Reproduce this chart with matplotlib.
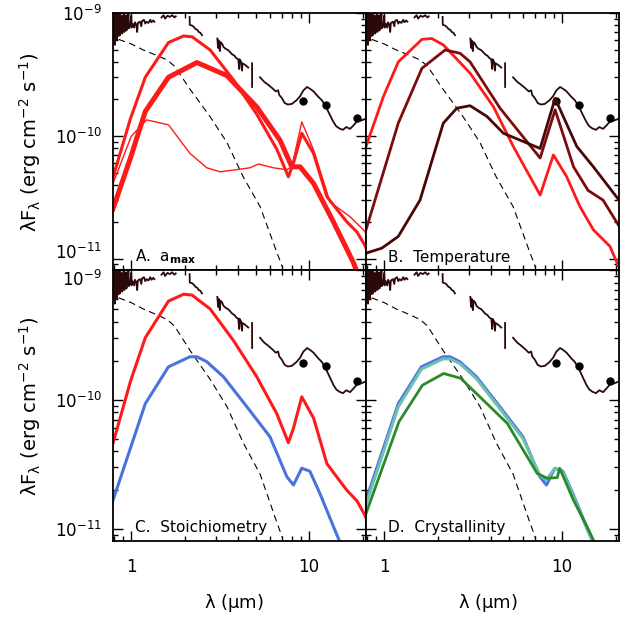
import numpy as np
import matplotlib
matplotlib.use("Agg")
import matplotlib.pyplot as plt
from matplotlib.ticker import NullFormatter

nan = np.nan

# observed spectrum (segments separated by nan)
spec_wl = [0.79, 0.795, 0.80, 0.805, 0.81, 0.815, 0.82, 0.825, 0.83, 0.835, 0.84, 0.845,
           0.85, 0.86, 0.865, 0.875, 0.885, 0.89, 0.90, 0.91, 0.915, 0.925, 0.935, 0.94,
           0.95, 0.965, 0.97, 0.99, 1.0, 1.005, 1.02, 1.04, 1.05, 1.07, 1.08, 1.09, 1.12,
           1.14, 1.15, 1.18, 1.2, 1.22, 1.25, 1.28, 1.3, 1.33, 1.35, nan,
           1.48, 1.52, 1.55, 1.6, 1.65, 1.7, 1.75, 1.78, nan,
           2.13, 2.135, 2.2, 2.25, 2.3, 2.35, 2.4, 2.45, 2.5, nan,
           3.05, 3.08, 3.1, 3.15, 3.18, 3.25, 3.3, 3.4, 3.5, 3.6, 3.7, 3.8, 3.9, 4.0, 4.05,
           4.07, 4.15, 4.2, 4.22, 4.35, 4.45, 4.55, nan,
           4.78, 4.785, nan,
           5.3, 5.6, 5.9, 6.2, 6.5, 6.7, 6.8, 7.0, 7.3, 7.6, 8.0, 8.5, 8.9, 9.3, 9.75, 10.2,
           10.6, 11.2, 11.8, 12.5, 13.1, 13.7, 14.2, 14.8, 15.5, 16.2, 17.0, 17.8, 18.6,
           19.5, 20.9]
spec_flux = [6.3e-10, 1.0e-9, 6.0e-10, 9.5e-10, 5.5e-10, 1.0e-9, 6.2e-10, 9.8e-10, 6.0e-10,
             1.0e-9, 7.0e-10, 9.8e-10, 6.5e-10, 1.0e-9, 6.6e-10, 7.5e-10, 9.5e-10, 6.8e-10,
             7.5e-10, 1.0e-9, 7.0e-10, 7.8e-10, 9.6e-10, 7.2e-10, 7.8e-10, 1.0e-9, 7.5e-10,
             8.0e-10, 9.5e-10, 7.6e-10, 8.2e-10, 7.6e-10, 8.4e-10, 8.0e-10, 7.0e-10, 8.3e-10,
             8.5e-10, 7.8e-10, 8.6e-10, 8.8e-10, 8.2e-10, 8.5e-10, 8.3e-10, 8.8e-10, 8.4e-10,
             8.7e-10, 8.5e-10, nan,
             9.2e-10, 9.6e-10, 9.0e-10, 9.5e-10, 9.3e-10, 9.6e-10, 9.2e-10, 9.4e-10, nan,
             9.3e-10, 8.0e-10, 7.9e-10, 7.7e-10, 7.4e-10, 7.3e-10, 7.0e-10, 6.9e-10, 6.6e-10, nan,
             6.2e-10, 5.2e-10, 6.0e-10, 4.9e-10, 5.8e-10, 5.6e-10, 5.3e-10, 5.1e-10, 5.0e-10,
             4.8e-10, 4.6e-10, 4.5e-10, 4.3e-10, 4.2e-10, 3.5e-10, 4.2e-10, 4.0e-10, 3.4e-10,
             3.9e-10, 3.8e-10, 3.7e-10, 3.6e-10, nan,
             3.9e-10, 2.5e-10, nan,
             3.0e-10, 2.75e-10, 2.6e-10, 2.45e-10, 2.3e-10, 2.35e-10, 2.15e-10, 2.05e-10,
             1.85e-10, 1.8e-10, 1.82e-10, 1.95e-10, 2.1e-10, 2.35e-10, 2.5e-10, 2.4e-10,
             2.3e-10, 2.1e-10, 1.95e-10, 1.7e-10, 1.48e-10, 1.3e-10, 1.2e-10, 1.15e-10,
             1.12e-10, 1.18e-10, 1.14e-10, 1.22e-10, 1.31e-10, 1.33e-10, 1.38e-10]

# photometry points
phot_wl = [9.2, 12.5, 18.5]
phot_flux = [1.93e-10, 1.8e-10, 1.4e-10]

# stellar photosphere (dashed)
star_wl = [0.85, 1.0, 1.17, 1.4, 1.59, 1.75, 2.14, 2.78, 3.46, 4.26, 5.31, 6.6, 7.1]
star_flux = [6.1e-10, 5.6e-10, 5.0e-10, 4.5e-10, 4.15e-10, 3.7e-10, 2.4e-10, 1.43e-10,
             8.8e-11, 4.65e-11, 2.65e-11, 1.12e-11, 8.5e-12]

# reference model (red in A and C)
ref_wl = [0.79, 0.99, 1.2, 1.62, 1.97, 2.2, 2.78, 3.76, 5.08, 6.58, 7.65, 8.17, 9.1,
          10.6, 12.6, 14.9, 16.3, 18.6, 20.5, 22]
ref_flux = [4.6e-11, 1.38e-10, 3.0e-10, 5.75e-10, 6.5e-10, 6.4e-10, 5.0e-10, 2.85e-10,
            1.5e-10, 7.8e-11, 4.65e-11, 6.0e-11, 1.05e-10, 7.2e-11, 3.2e-11, 2.35e-11,
            2.0e-11, 1.65e-11, 1.3e-11, 1.05e-11]

# A. a_max
amax_thin_wl = [0.79, 1.0, 1.22, 1.62, 2.14, 2.66, 3.16, 4.66, 5.19, 6.3, 7.5, 8.0, 9.1,
                10.6, 13.1, 17.0, 20.2, 22]
amax_thin_flux = [4.1e-11, 9.9e-11, 1.35e-10, 1.23e-10, 7.2e-11, 5.5e-11, 5.1e-11, 5.5e-11,
                  5.9e-11, 5.5e-11, 5.3e-11, 5.6e-11, 1.3e-10, 7.7e-11, 2.9e-11, 2.2e-11,
                  1.72e-11, 1.45e-11]
amax_thick_wl = [0.79, 0.99, 1.2, 1.62, 2.34, 3.45, 5.08, 6.87, 8.0, 8.9, 10.6, 13.7,
                 17.7, 21]
amax_thick_flux = [2.55e-11, 6.6e-11, 1.58e-10, 3.0e-10, 3.95e-10, 3.1e-10, 1.72e-10,
                   9.2e-11, 5.6e-11, 5.6e-11, 4.1e-11, 2.0e-11, 9.4e-12, 5e-12]

# B. Temperature
temp1_wl = [0.79, 0.99, 1.2, 1.63, 1.85, 2.15, 3.04, 4.11, 5.32, 7.53, 8.94, 10.6, 12.6,
            15.0, 18.6, 20.9]
temp1_flux = [8.2e-11, 2.09e-10, 4.0e-10, 6.1e-10, 6.2e-10, 5.5e-10, 3.24e-10, 1.73e-10,
              8.2e-11, 3.3e-11, 7.0e-11, 4.67e-11, 2.66e-11, 1.72e-11, 1.26e-11, 8.5e-12]
temp2_wl = [0.79, 1.2, 1.63, 2.2, 2.67, 3.04, 4.48, 7.53, 9.14, 11.6, 14.0, 17.0, 20.9]
temp2_flux = [1.72e-11, 1.27e-10, 3.55e-10, 5.0e-10, 4.7e-10, 4.0e-10, 1.68e-10, 6.6e-11,
              1.63e-10, 5.6e-11, 3.6e-11, 3.0e-11, 1.85e-11]
temp3_wl = [0.79, 0.97, 1.2, 1.59, 2.15, 2.56, 3.04, 3.78, 4.68, 7.53, 9.14, 12.1, 15.0,
            20.9]
temp3_flux = [1.11e-11, 1.22e-11, 1.52e-11, 3.0e-11, 1.27e-10, 1.68e-10, 1.76e-10,
              1.44e-10, 1.05e-10, 7.9e-11, 2.02e-10, 8.2e-11, 5.6e-11, 3.0e-11]

# C./D. stoichiometry and crystallinity
blue_wl = [0.79, 1.2, 1.62, 2.14, 2.34, 2.66, 3.3, 4.47, 6.03, 7.5, 8.17, 9.1, 10.1,
           11.5, 13.7, 15.5]
blue_flux = [1.67e-11, 9.3e-11, 1.79e-10, 2.14e-10, 2.14e-10, 1.96e-10, 1.5e-10, 8.8e-11,
             5.16e-11, 2.54e-11, 2.19e-11, 2.95e-11, 2.8e-11, 1.89e-11, 1.05e-11, 7e-12]
teal_flux = [1.55e-11, 8.8e-11, 1.72e-10, 2.06e-10, 2.06e-10, 1.9e-10, 1.45e-10, 8.5e-11,
             5.0e-11, 2.6e-11, 2.4e-11, 2.95e-11, 2.75e-11, 1.85e-11, 1.03e-11, 7e-12]
green_wl = [0.79, 1.21, 1.64, 2.16, 2.69, 4.92, 7.25, 8.25, 9.39, 9.7, 11.6, 13.8, 15.5]
green_flux = [1.32e-11, 6.74e-11, 1.29e-10, 1.59e-10, 1.46e-10, 6.55e-11, 2.69e-11,
              2.47e-11, 2.5e-11, 2.95e-11, 1.67e-11, 1.05e-11, 7.5e-12]

RED = "#ff1a1a"
SPEC = "#2b0909"

plt.rcParams["font.family"] = "DejaVu Sans"
plt.rcParams["mathtext.default"] = "regular"

fig = plt.figure(figsize=(6.3, 6.3), dpi=100)

W = 253 / 630
boxes = {
    "A": [113 / 630, 360 / 630, W, 257 / 630],
    "B": [366 / 630, 360 / 630, W, 257 / 630],
    "C": [113 / 630, 89 / 630, W, 271 / 630],
    "D": [366 / 630, 89 / 630, W, 271 / 630],
}
labels = {
    "A": r"A.  a$_{\mathbf{max}}$",
    "B": "B.  Temperature",
    "C": "C.  Stoichiometry",
    "D": "D.  Crystallinity",
}

axes = {}
for key, box in boxes.items():
    ax = fig.add_axes(box)
    ax.set_xscale("log")
    ax.set_yscale("log")
    ax.set_xlim(0.79, 20.9)
    ax.set_ylim(8.1e-12, 1e-9)

    ax.plot(spec_wl, spec_flux, color=SPEC, lw=1.3)
    ax.plot(phot_wl, phot_flux, "o", color="black", ms=5)
    ax.plot(star_wl, star_flux, color="black", lw=0.8, ls=(0, (6, 4)))

    ax.set_xticks([1, 10])
    ax.xaxis.set_minor_formatter(NullFormatter())
    ax.set_yticks([1e-11, 1e-10, 1e-9])
    ax.yaxis.set_minor_formatter(NullFormatter())
    ax.tick_params(which="both", direction="in", top=True, right=True, labelsize=12)
    ax.tick_params(which="major", length=7, width=1.0)
    ax.tick_params(which="minor", length=3.5, width=1.0)
    ax.tick_params(axis="x", pad=12)
    ax.tick_params(axis="y", pad=8)
    for s in ax.spines.values():
        s.set_linewidth(1.3)

    if key in ("A", "B"):
        ax.tick_params(labelbottom=False)
    else:
        ax.set_xticklabels(["1", "10"])
    if key in ("B", "D"):
        ax.tick_params(labelleft=False)

    ax.text(0.085, 0.05, labels[key], transform=ax.transAxes, fontsize=11,
            ha="left", va="center")
    axes[key] = ax

# keep the stacked 10^-11 / 10^-9 labels apart
fig.canvas.draw()
axes["A"].get_yticklabels()[0].set_verticalalignment("baseline")
axes["C"].get_yticklabels()[2].set_verticalalignment("top")

ax = axes["A"]
ax.plot(amax_thin_wl, amax_thin_flux, color=RED, lw=1.0)
ax.plot(ref_wl, ref_flux, color=RED, lw=2.2)
ax.plot(amax_thick_wl, amax_thick_flux, color=RED, lw=3.6)

ax = axes["B"]
ax.plot(temp1_wl, temp1_flux, color=RED, lw=2.0)
ax.plot(temp2_wl, temp2_flux, color="#7e0b0b", lw=2.0)
ax.plot(temp3_wl, temp3_flux, color="#4a0606", lw=2.0)

ax = axes["C"]
ax.plot(ref_wl, ref_flux, color=RED, lw=2.2)
ax.plot(blue_wl, blue_flux, color="#4a72e0", lw=2.2)

ax = axes["D"]
ax.plot(blue_wl, blue_flux, color="#4a72e0", lw=2.2)
ax.plot(blue_wl, teal_flux, color="#6cc0b0", lw=2.2)
ax.plot(green_wl, green_flux, color="#2a8a2a", lw=2.0)

ylab = r"λF$_λ$ (erg cm$^{-2}$ s$^{-1}$)"
fig.text(0.048, 0.775, ylab, rotation=90, ha="center", va="center", fontsize=14)
fig.text(0.048, 0.356, ylab, rotation=90, ha="center", va="center", fontsize=14)
fig.text(0.372, 0.043, r"λ ($\mu$m)", ha="center", va="center", fontsize=13)
fig.text(0.775, 0.043, r"λ ($\mu$m)", ha="center", va="center", fontsize=13)

fig.savefig("out.png", dpi=100)
